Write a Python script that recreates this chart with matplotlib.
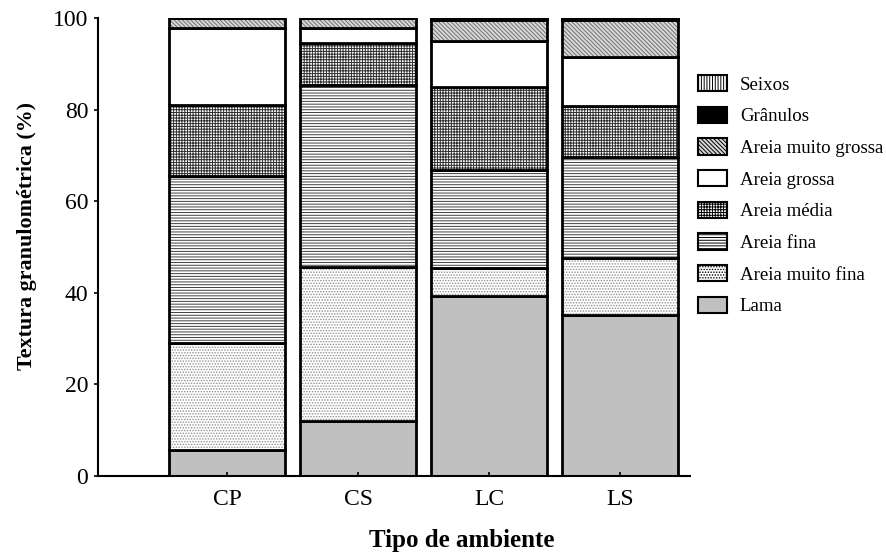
import matplotlib
matplotlib.use("Agg")
import matplotlib.pyplot as plt
from matplotlib.patches import Patch
import numpy as np

plt.rcParams['font.family'] = ['Liberation Serif', 'DejaVu Serif']

ambientes = ["CP", "CS", "LC", "LS"]
classes = ["Lama", "Areia muito fina", "Areia fina", "Areia média",
           "Areia grossa", "Areia muito grossa", "Grânulos", "Seixos"]

lama = [5.7, 12.0, 39.3, 35.2]
areia_muito_fina = [23.3, 33.6, 6.1, 12.4]
areia_fina = [36.5, 39.8, 21.4, 22.1]
areia_media = [15.5, 9.1, 18.2, 11.1]
areia_grossa = [16.8, 3.3, 10.0, 10.7]
areia_muito_grossa = [2.2, 2.2, 4.6, 8.1]
granulos = [0.0, 0.0, 0.2, 0.2]
seixos = [0.0, 0.0, 0.2, 0.2]

series = [lama, areia_muito_fina, areia_fina, areia_media,
          areia_grossa, areia_muito_grossa, granulos, seixos]

# face colour, hatch, hatch colour
estilos = [
    ("#c0c0c0", None, "#c0c0c0"),
    ("white", "......", "#909090"),
    ("white", "------", "#404040"),
    ("white", "++++++", "#303030"),
    ("white", None, "white"),
    ("#d8d8d8", "\\\\\\\\\\\\\\\\", "#707070"),
    ("black", None, "black"),
    ("white", "||||||", "black"),
]

plt.rcParams['hatch.linewidth'] = 0.7

fig = plt.figure(figsize=(8.86, 5.57), dpi=100)
ax = fig.add_axes([0.1106, 0.1454, 0.668, 0.8223])

x = np.arange(len(ambientes))
largura = 0.885
base = np.zeros(len(ambientes))
for vals, (fc, h, hc) in zip(series, estilos):
    vals = np.array(vals)
    ax.bar(x, vals, largura, bottom=base, color=fc, hatch=h,
           edgecolor=hc, linewidth=0)
    ax.bar(x, vals, largura, bottom=base, fill=False,
           edgecolor="black", linewidth=2)
    base += vals

ax.set_xlim(-0.985, 3.53)
ax.set_ylim(0, 100)
ax.set_xticks(x)
ax.set_xticklabels(ambientes, fontsize=17)
ax.set_yticks([0, 20, 40, 60, 80, 100])
ax.tick_params(axis="y", labelsize=17, direction="out", length=3, width=1.2, pad=4)
ax.tick_params(axis="x", direction="in", length=3, width=1.2, pad=9)
for s in ["top", "right"]:
    ax.spines[s].set_visible(False)
for s in ["left", "bottom"]:
    ax.spines[s].set_linewidth(1.5)

ax.set_ylabel("Textura granulométrica (%)", fontsize=15.8, fontweight="bold")
ax.yaxis.set_label_coords(-0.103, 0.523)
ax.set_xlabel("Tipo de ambiente", fontsize=18, fontweight="bold")
ax.xaxis.set_label_coords(0.615, -0.115)

handles = []
for nome, (fc, h, hc) in zip(classes, estilos):
    handles.append(Patch(facecolor=fc, hatch=h, edgecolor="black",
                         linewidth=1.5, label=nome))
handles = handles[::-1]
fig.legend(handles=handles, loc="upper left", bbox_to_anchor=(698 / 886, 1 - 75 / 557),
           frameon=False, fontsize=13.6, handlelength=1.53, handleheight=0.95,
           labelspacing=0.69, handletextpad=0.69, borderpad=0, borderaxespad=0)

fig.savefig("out.png", dpi=100)
